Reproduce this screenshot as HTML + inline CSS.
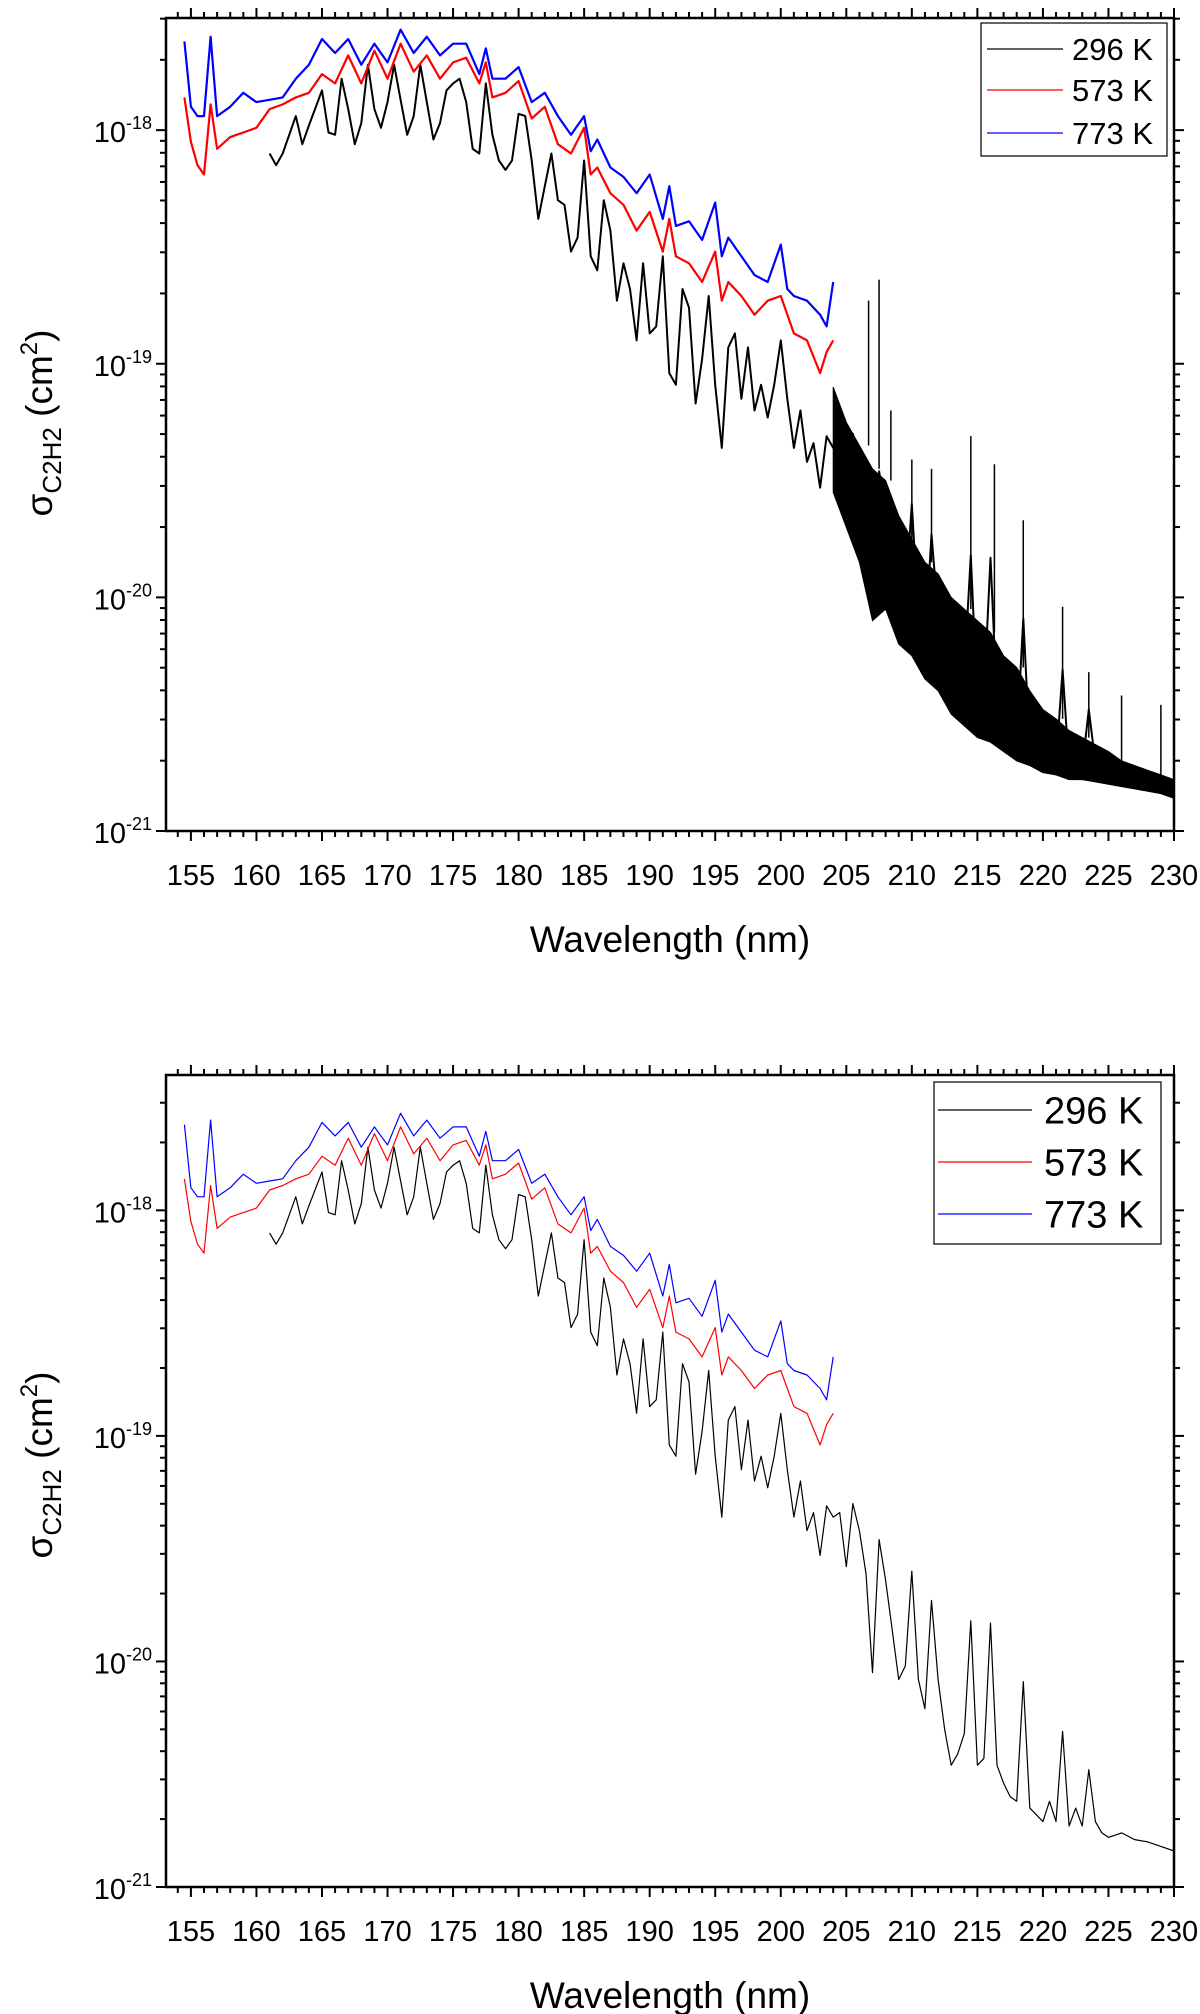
<!DOCTYPE html>
<html><head><meta charset="utf-8">
<style>
html,body{margin:0;padding:0;background:#fff;}
svg{display:block;font-family:"Liberation Sans",Arial,sans-serif;}
</style></head>
<body>
<svg id="chart" width="1200" height="2014" viewBox="0 0 1200 2014" xmlns="http://www.w3.org/2000/svg"></svg>
<script>
// ---- data (log10 of cross-section, cm^2) ----
const wl773 = [154.5,155,155.5,156,156.5,157,158,159,160,161,162,163,164,165,166,167,168,169,170,171,172,173,174,175,176,177,177.5,178,179,180,181,182,183,184,185,185.5,186,187,188,189,190,191,191.5,192,193,194,195,195.5,196,197,198,199,200,200.5,201,202,203,203.5,204];
const val773 = [-17.62,-17.90,-17.94,-17.94,-17.60,-17.94,-17.90,-17.84,-17.88,-17.87,-17.86,-17.78,-17.72,-17.61,-17.67,-17.61,-17.72,-17.63,-17.71,-17.57,-17.67,-17.60,-17.68,-17.63,-17.63,-17.76,-17.65,-17.78,-17.78,-17.73,-17.88,-17.84,-17.94,-18.02,-17.94,-18.09,-18.04,-18.16,-18.20,-18.27,-18.19,-18.38,-18.24,-18.41,-18.39,-18.47,-18.31,-18.54,-18.46,-18.54,-18.62,-18.65,-18.49,-18.68,-18.71,-18.73,-18.79,-18.84,-18.65];
const wl573 = [154.5,155,155.5,156,156.5,157,158,159,160,161,162,163,164,165,166,167,168,169,170,171,172,173,174,175,176,177,177.5,178,179,180,181,182,183,184,185,185.5,186,187,188,189,190,191,191.5,192,193,194,195,195.5,196,197,198,199,200,201,202,203,203.5,204];
const val573 = [-17.86,-18.05,-18.15,-18.19,-17.89,-18.08,-18.03,-18.01,-17.99,-17.91,-17.89,-17.86,-17.84,-17.76,-17.80,-17.68,-17.80,-17.66,-17.78,-17.63,-17.75,-17.68,-17.78,-17.71,-17.69,-17.80,-17.71,-17.86,-17.84,-17.79,-17.95,-17.90,-18.06,-18.10,-17.99,-18.19,-18.16,-18.27,-18.32,-18.43,-18.35,-18.52,-18.38,-18.54,-18.57,-18.65,-18.52,-18.73,-18.65,-18.71,-18.79,-18.73,-18.71,-18.87,-18.90,-19.04,-18.95,-18.90];
const wl296 = [161,161.5,162,163,163.5,164,165,165.5,166,166.5,167,167.5,168,168.5,169,169.5,170,170.5,171,171.5,172,172.5,173,173.5,174,174.5,175,175.5,176,176.5,177,177.5,178,178.5,179,179.5,180,180.5,181,181.5,182,182.5,183,183.5,184,184.5,185,185.5,186,186.5,187,187.5,188,188.5,189,189.5,190,190.5,191,191.5,192,192.5,193,193.5,194,194.5,195,195.5,196,196.5,197,197.5,198,198.5,199,199.5,200,200.5,201,201.5,202,202.5,203,203.5,204,204.5,205,205.5,206,206.5,207,207.5,208,208.5,209,209.5,210,210.5,211,211.5,212,212.5,213,213.5,214,214.5,215,215.5,216,216.5,217,217.5,218,218.5,219,219.5,220,220.5,221,221.5,222,222.5,223,223.5,224,224.5,225,226,227,228,229,230];
const val296 = [-18.10,-18.15,-18.10,-17.94,-18.06,-17.98,-17.83,-18.01,-18.02,-17.78,-17.91,-18.06,-17.97,-17.72,-17.91,-17.99,-17.88,-17.72,-17.87,-18.02,-17.94,-17.72,-17.88,-18.04,-17.97,-17.83,-17.80,-17.78,-17.88,-18.08,-18.10,-17.80,-18.02,-18.13,-18.17,-18.13,-17.93,-17.94,-18.13,-18.38,-18.24,-18.10,-18.30,-18.32,-18.52,-18.46,-18.13,-18.54,-18.60,-18.30,-18.43,-18.73,-18.57,-18.68,-18.90,-18.57,-18.87,-18.84,-18.54,-19.04,-19.09,-18.68,-18.76,-19.17,-18.98,-18.71,-19.09,-19.36,-18.93,-18.87,-19.15,-18.93,-19.20,-19.09,-19.23,-19.09,-18.90,-19.15,-19.36,-19.20,-19.42,-19.34,-19.53,-19.31,-19.36,-19.34,-19.58,-19.30,-19.42,-19.61,-20.05,-19.46,-19.64,-19.86,-20.08,-20.02,-19.60,-20.08,-20.21,-19.73,-20.08,-20.30,-20.46,-20.41,-20.32,-19.82,-20.46,-20.43,-19.83,-20.46,-20.54,-20.60,-20.62,-20.09,-20.65,-20.68,-20.71,-20.62,-20.71,-20.31,-20.73,-20.65,-20.73,-20.48,-20.71,-20.76,-20.78,-20.76,-20.79,-20.80,-20.82,-20.84];
// noisy band of the 296 K high-resolution spectrum (top panel)
const bandWl = [204,205,206,207,208,209,210,211,212,213,214,215,216,217,218,219,220,221,222,223,224,225,226,227,228,229,230];
const bandHi = [-19.1,-19.25,-19.35,-19.45,-19.5,-19.65,-19.75,-19.85,-19.9,-20.0,-20.05,-20.1,-20.15,-20.25,-20.3,-20.4,-20.48,-20.52,-20.57,-20.6,-20.63,-20.66,-20.7,-20.72,-20.74,-20.76,-20.78];
const bandLo = [-19.55,-19.7,-19.85,-20.1,-20.05,-20.2,-20.25,-20.35,-20.4,-20.5,-20.55,-20.6,-20.62,-20.66,-20.7,-20.72,-20.75,-20.76,-20.78,-20.78,-20.79,-20.8,-20.81,-20.82,-20.83,-20.84,-20.86];
const spikeWl = [206.7,207.5,208.4,210,211.5,214.5,216.3,218.5,221.5,223.5,226,229];
const spikeVal = [-18.73,-18.64,-19.20,-19.41,-19.45,-19.31,-19.43,-19.67,-20.04,-20.32,-20.42,-20.46];
const xTicks = [155,160,165,170,175,180,185,190,195,200,205,210,215,220,225,230];
const yTicks = [-21,-20,-19,-18];
const legendLabels = ["296 K","573 K","773 K"];

const NS="http://www.w3.org/2000/svg";
const svg=document.getElementById('chart');
function mk(tag,attrs,parent){const e=document.createElementNS(NS,tag);for(const k in attrs)e.setAttribute(k,attrs[k]);(parent||svg).appendChild(e);return e;}

function drawPlot(cfg){
  const g=mk('g',{});
  
  
  const X=v=>cfg.L+(v-153.1)/(230-153.1)*(cfg.R-cfg.L);
  const Y=v=>cfg.B-(v-(-21))/(cfg.ymax-(-21))*(cfg.B-cfg.T);
  const clip='clip'+cfg.id;
  const cp=mk('clipPath',{id:clip},g);mk('rect',{x:cfg.L,y:cfg.T,width:cfg.R-cfg.L,height:cfg.B-cfg.T},cp);
  const data=mk('g',{'clip-path':'url(#'+clip+')'},g);
  function line(wl,vals,color,w,name){
    let d='';for(let i=0;i<wl.length;i++)d+=(i?'L':'M')+X(wl[i]).toFixed(1)+' '+Y(vals[i]).toFixed(1);
    const p=mk('path',{d:d,fill:'none',stroke:color,'stroke-width':w,'stroke-linejoin':'round'},data);
    
    
  }
  if(cfg.noisy){
    let d='';
    for(let i=0;i<bandWl.length;i++)d+=(i?'L':'M')+X(bandWl[i]).toFixed(1)+' '+Y(bandHi[i]).toFixed(1);
    for(let i=bandWl.length-1;i>=0;i--)d+='L'+X(bandWl[i]).toFixed(1)+' '+Y(bandLo[i]).toFixed(1);
    const b=mk('path',{d:d+'Z',fill:'#000',stroke:'#000','stroke-width':1},data);
    
    
    for(let i=0;i<spikeWl.length;i++){
      let k=0;for(let j=0;j<bandWl.length;j++){if(bandWl[j]<=spikeWl[i])k=j;}
      const s=mk('line',{x1:X(spikeWl[i]),x2:X(spikeWl[i]),y1:Y(spikeVal[i]),y2:Y(bandHi[k]),stroke:'#000','stroke-width':1.5},data);
      
      
    }
  }
  const w=cfg.noisy?2.2:1.2;
  line(wl296,val296,'#000',cfg.noisy?2:1.2,'series-296k');
  line(wl573,val573,'#f00',w,'series-573k');
  line(wl773,val773,'#00f',w,'series-773k');
  const fr=mk('rect',{x:cfg.L,y:cfg.T,width:cfg.R-cfg.L,height:cfg.B-cfg.T,fill:'none',stroke:'#000','stroke-width':2.5},g);
  
  
  for(let v=154;v<=230;v++){
    const maj=v%5===0, len=maj?10:6, x=X(v);
    mk('line',{x1:x,x2:x,y1:cfg.B,y2:cfg.B+len,stroke:'#000','stroke-width':2},g);
    mk('line',{x1:x,x2:x,y1:cfg.T,y2:cfg.T-len,stroke:'#000','stroke-width':2},g);
  }
  xTicks.forEach(v=>{
    const t=mk('text',{x:X(v),y:cfg.B+54,'text-anchor':'middle','font-size':29},g);
    t.textContent=v;
    
    
  });
  for(let e=-21;e<=-17;e++){
    for(let m=1;m<=9;m++){
      const v=e+Math.log10(m); if(v>cfg.ymax)break;
      const y=Y(v), len=m===1?10:6;
      mk('line',{x1:cfg.L,x2:cfg.L-len,y1:y,y2:y,stroke:'#000','stroke-width':2},g);
      mk('line',{x1:cfg.R,x2:cfg.R+len,y1:y,y2:y,stroke:'#000','stroke-width':2},g);
    }
  }
  yTicks.forEach(v=>{
    const t=mk('text',{x:cfg.L-14,y:Y(v)+12,'text-anchor':'end','font-size':29},g);
    
    
    const a=mk('tspan',{},t);a.textContent='10';
    const b=mk('tspan',{'font-size':18,dy:-13},t);b.textContent=String(v);
  });
  const xt=mk('text',{x:(cfg.L+cfg.R)/2,y:cfg.B+121,'text-anchor':'middle','font-size':37},g);
  xt.textContent='Wavelength (nm)';
  
  
  const cy=cfg.yTitleY;
  const yt=mk('text',{x:0,y:0,'text-anchor':'middle','font-size':37,transform:'translate(52,'+cy+') rotate(-90)'},g);
  
  
  const s1=mk('tspan',{},yt);s1.textContent='σ';
  const s2=mk('tspan',{'font-size':26,dy:9},yt);s2.textContent='C2H2';
  const s3=mk('tspan',{dy:-9},yt);s3.textContent=' (cm';
  const s4=mk('tspan',{'font-size':24,dy:-15},yt);s4.textContent='2';
  const s5=mk('tspan',{dy:15},yt);s5.textContent=')';
  const lg=cfg.legend;
  const lgG=mk('g',{},g);
  
  
  mk('rect',{x:lg.x,y:lg.y,width:lg.w,height:lg.h,fill:'#fff',stroke:'#000','stroke-width':1.2},lgG);
  const cols=['#000','#f00','#00f'];
  legendLabels.forEach((lab,i)=>{
    const ey=lg.rows[i];
    const e=mk('g',{},lgG);
    
    
    mk('line',{x1:lg.l1,x2:lg.l2,y1:ey,y2:ey,stroke:cols[i],'stroke-width':1.3},e);
    const t=mk('text',{x:lg.tx,y:ey+lg.fs*0.36,'font-size':lg.fs},e);t.textContent=lab;
  });
}
drawPlot({id:1,name:'top-panel',L:166,R:1174,T:18,B:831,ymax:-17.52,noisy:true,yTitleY:423,
  legend:{x:981,y:23,w:186,h:133,rows:[49,90,133],l1:987,l2:1063,tx:1072,fs:31}});
drawPlot({id:2,name:'bottom-panel',L:166,R:1174,T:1075,B:1887,ymax:-17.40,noisy:false,yTitleY:1465,
  legend:{x:934,y:1082,w:227,h:162,rows:[1110,1162,1214],l1:938,l2:1032,tx:1044,fs:38}});
</script>
</body></html>
